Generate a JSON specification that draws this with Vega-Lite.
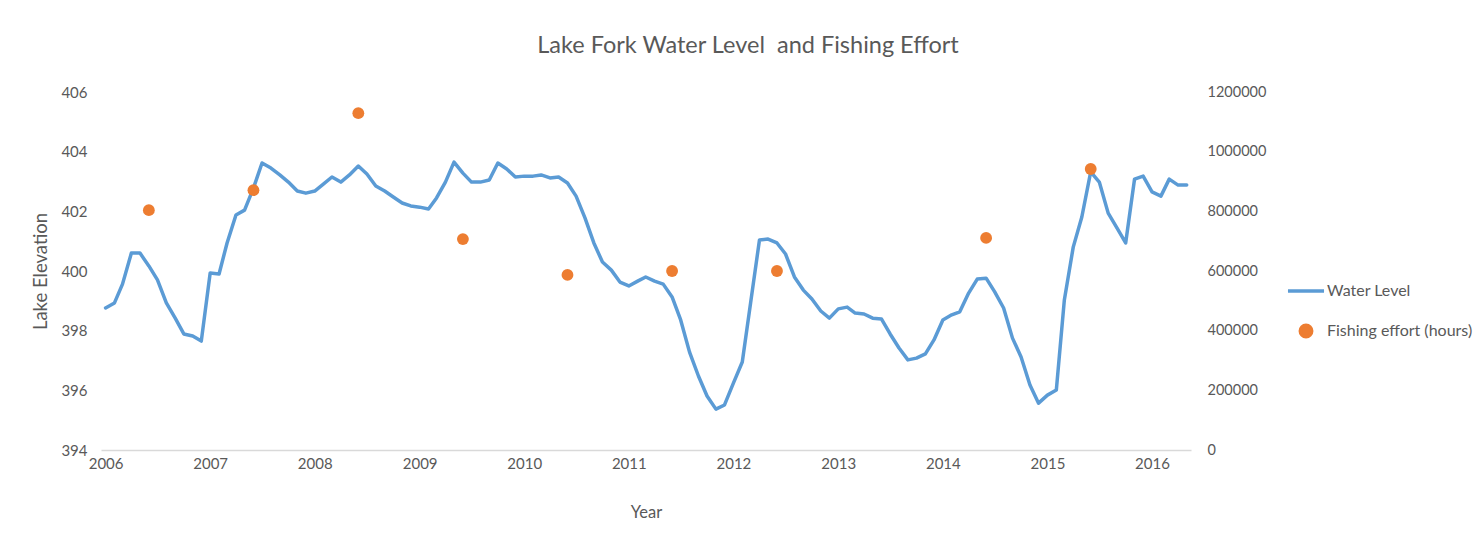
{
  "$schema": "https://vega.github.io/schema/vega-lite/v6.json",
  "autosize": {"type": "none"},
  "width": 1090,
  "height": 358,
  "padding": {"left": 101, "top": 92, "right": 293, "bottom": 103},
  "background": "white",
  "config": {
    "view": {"stroke": null},
    "font": "Lato",
    "axis": {"labelFont": "Lato", "titleFont": "Lato", "labelColor": "#595959", "titleColor": "#595959", "grid": false, "ticks": false, "domain": false, "titleFontWeight": "normal", "labelFontSize": 15, "titleFontSize": 16.5}
  },
  "title": {"text": "Lake Fork Water Level\u00a0 and Fishing Effort", "fontSize": 23.5, "font": "Lato", "fontWeight": "normal", "color": "#595959", "anchor": "middle", "dx": 102, "offset": 27},
  "datasets": {
    "level": [
      {"date": "2006-01-01", "level": 398.76}, {"date": "2006-02-01", "level": 398.93}, {"date": "2006-03-01", "level": 399.56}, {"date": "2006-04-01", "level": 400.60}, {"date": "2006-05-01", "level": 400.60}, {"date": "2006-06-01", "level": 400.17}, {"date": "2006-07-01", "level": 399.70}, {"date": "2006-08-01", "level": 398.93}, {"date": "2006-09-01", "level": 398.42}, {"date": "2006-10-01", "level": 397.89}, {"date": "2006-11-01", "level": 397.82}, {"date": "2006-12-01", "level": 397.65},
      {"date": "2007-01-01", "level": 399.93}, {"date": "2007-02-01", "level": 399.90}, {"date": "2007-03-01", "level": 400.94}, {"date": "2007-04-01", "level": 401.88}, {"date": "2007-05-01", "level": 402.04}, {"date": "2007-06-01", "level": 402.78}, {"date": "2007-07-01", "level": 403.62}, {"date": "2007-08-01", "level": 403.45}, {"date": "2007-09-01", "level": 403.22}, {"date": "2007-10-01", "level": 402.98}, {"date": "2007-11-01", "level": 402.68}, {"date": "2007-12-01", "level": 402.61},
      {"date": "2008-01-01", "level": 402.68}, {"date": "2008-02-01", "level": 402.92}, {"date": "2008-03-01", "level": 403.15}, {"date": "2008-04-01", "level": 402.98}, {"date": "2008-05-01", "level": 403.22}, {"date": "2008-06-01", "level": 403.52}, {"date": "2008-07-01", "level": 403.25}, {"date": "2008-08-01", "level": 402.85}, {"date": "2008-09-01", "level": 402.68}, {"date": "2008-10-01", "level": 402.48}, {"date": "2008-11-01", "level": 402.28}, {"date": "2008-12-01", "level": 402.18},
      {"date": "2009-01-01", "level": 402.14}, {"date": "2009-02-01", "level": 402.08}, {"date": "2009-03-01", "level": 402.45}, {"date": "2009-04-01", "level": 402.98}, {"date": "2009-05-01", "level": 403.65}, {"date": "2009-06-01", "level": 403.28}, {"date": "2009-07-01", "level": 402.98}, {"date": "2009-08-01", "level": 402.98}, {"date": "2009-09-01", "level": 403.05}, {"date": "2009-10-01", "level": 403.62}, {"date": "2009-11-01", "level": 403.42}, {"date": "2009-12-01", "level": 403.15},
      {"date": "2010-01-01", "level": 403.18}, {"date": "2010-02-01", "level": 403.18}, {"date": "2010-03-01", "level": 403.22}, {"date": "2010-04-01", "level": 403.12}, {"date": "2010-05-01", "level": 403.15}, {"date": "2010-06-01", "level": 402.95}, {"date": "2010-07-01", "level": 402.51}, {"date": "2010-08-01", "level": 401.78}, {"date": "2010-09-01", "level": 400.94}, {"date": "2010-10-01", "level": 400.30}, {"date": "2010-11-01", "level": 400.03}, {"date": "2010-12-01", "level": 399.63},
      {"date": "2011-01-01", "level": 399.50}, {"date": "2011-02-01", "level": 399.66}, {"date": "2011-03-01", "level": 399.80}, {"date": "2011-04-01", "level": 399.66}, {"date": "2011-05-01", "level": 399.56}, {"date": "2011-06-01", "level": 399.13}, {"date": "2011-07-01", "level": 398.36}, {"date": "2011-08-01", "level": 397.28}, {"date": "2011-09-01", "level": 396.48}, {"date": "2011-10-01", "level": 395.81}, {"date": "2011-11-01", "level": 395.37}, {"date": "2011-12-01", "level": 395.51},
      {"date": "2012-01-01", "level": 396.24}, {"date": "2012-02-01", "level": 396.95}, {"date": "2012-03-01", "level": 398.93}, {"date": "2012-04-01", "level": 401.04}, {"date": "2012-05-01", "level": 401.07}, {"date": "2012-06-01", "level": 400.94}, {"date": "2012-07-01", "level": 400.57}, {"date": "2012-08-01", "level": 399.80}, {"date": "2012-09-01", "level": 399.36}, {"date": "2012-10-01", "level": 399.06}, {"date": "2012-11-01", "level": 398.66}, {"date": "2012-12-01", "level": 398.42},
      {"date": "2013-01-01", "level": 398.73}, {"date": "2013-02-01", "level": 398.79}, {"date": "2013-03-01", "level": 398.59}, {"date": "2013-04-01", "level": 398.56}, {"date": "2013-05-01", "level": 398.42}, {"date": "2013-06-01", "level": 398.39}, {"date": "2013-07-01", "level": 397.89}, {"date": "2013-08-01", "level": 397.42}, {"date": "2013-09-01", "level": 397.02}, {"date": "2013-10-01", "level": 397.08}, {"date": "2013-11-01", "level": 397.22}, {"date": "2013-12-01", "level": 397.69},
      {"date": "2014-01-01", "level": 398.36}, {"date": "2014-02-01", "level": 398.53}, {"date": "2014-03-01", "level": 398.63}, {"date": "2014-04-01", "level": 399.26}, {"date": "2014-05-01", "level": 399.73}, {"date": "2014-06-01", "level": 399.76}, {"date": "2014-07-01", "level": 399.30}, {"date": "2014-08-01", "level": 398.76}, {"date": "2014-09-01", "level": 397.75}, {"date": "2014-10-01", "level": 397.12}, {"date": "2014-11-01", "level": 396.18}, {"date": "2014-12-01", "level": 395.57},
      {"date": "2015-01-01", "level": 395.84}, {"date": "2015-02-01", "level": 396.01}, {"date": "2015-03-01", "level": 399.03}, {"date": "2015-04-01", "level": 400.80}, {"date": "2015-05-01", "level": 401.81}, {"date": "2015-06-01", "level": 403.32}, {"date": "2015-07-01", "level": 402.98}, {"date": "2015-08-01", "level": 401.94}, {"date": "2015-09-01", "level": 401.44}, {"date": "2015-10-01", "level": 400.94}, {"date": "2015-11-01", "level": 403.08}, {"date": "2015-12-01", "level": 403.18},
      {"date": "2016-01-01", "level": 402.65}, {"date": "2016-02-01", "level": 402.51}, {"date": "2016-03-01", "level": 403.08}, {"date": "2016-04-01", "level": 402.88}, {"date": "2016-05-01", "level": 402.88}
    ],
    "effort": [
      {"date": "2006-06-01", "effort": 804000},
      {"date": "2007-06-01", "effort": 871000},
      {"date": "2008-06-01", "effort": 1129000},
      {"date": "2009-06-01", "effort": 707000},
      {"date": "2010-06-01", "effort": 587000},
      {"date": "2011-06-01", "effort": 600000},
      {"date": "2012-06-01", "effort": 600000},
      {"date": "2014-06-01", "effort": 711000},
      {"date": "2015-06-01", "effort": 942000}
    ]
  },
  "layer": [
    {
      "data": {"name": "level"},
      "mark": {"type": "line", "strokeWidth": 3.5, "strokeCap": "round", "strokeJoin": "round"},
      "encoding": {
        "x": {
          "field": "date", "type": "temporal",
          "scale": {"type": "utc", "domain": [{"year": 2005, "month": 12, "date": 16, "utc": true}, {"year": 2016, "month": 5, "date": 16, "utc": true}]},
          "axis": {"title": "Year", "domain": true, "domainColor": "#d9d9d9", "domainWidth": 1.3, "format": "%Y", "tickCount": {"interval": "year", "step": 1}, "labelPadding": 6, "titlePadding": 33, "labelFlush": false, "labelOverlap": false}
        },
        "y": {
          "field": "level", "type": "quantitative",
          "scale": {"domain": [394, 406], "zero": false, "nice": false},
          "axis": {"title": "Lake Elevation", "titleFontSize": 18.5, "values": [394, 396, 398, 400, 402, 404, 406], "labelPadding": 14, "titlePadding": 10}
        },
        "color": {
          "datum": "Water Level", "type": "nominal",
          "scale": {"domain": ["Water Level", "Fishing effort (hours)"], "range": ["#5b9bd5", "#ed7d31"]},
          "legend": {
            "title": null, "orient": "none", "legendX": 1197, "legendY": 191, "padding": 0,
            "symbolSize": 1300, "labelFontSize": 16, "labelColor": "#595959", "labelFont": "Lato", "labelOffset": 13, "rowPadding": 19,
            "encode": {"symbols": {"update": {
              "shape": {"signal": "datum.value == 'Water Level' ? 'stroke' : 'circle'"},
              "size": {"signal": "datum.value == 'Water Level' ? 1300 : 130"},
              "fill": {"signal": "datum.value == 'Water Level' ? 'transparent' : '#ed7d31'"},
              "stroke": {"signal": "datum.value == 'Water Level' ? '#5b9bd5' : 'transparent'"},
              "strokeWidth": {"value": 3.5},
              "opacity": {"value": 1}
            }}}
          }
        }
      }
    },
    {
      "data": {"name": "effort"},
      "mark": {"type": "point", "filled": true, "size": 140, "opacity": 1},
      "encoding": {
        "x": {"field": "date", "type": "temporal"},
        "y": {
          "field": "effort", "type": "quantitative",
          "scale": {"domain": [0, 1200000], "nice": false},
          "axis": {"orient": "right", "title": null, "values": [0, 200000, 400000, 600000, 800000, 1000000, 1200000], "format": "d", "labelPadding": 16, "labelFontSize": 14.5}
        },
        "color": {"datum": "Fishing effort (hours)", "type": "nominal"}
      }
    }
  ],
  "resolve": {"scale": {"y": "independent"}}
}
